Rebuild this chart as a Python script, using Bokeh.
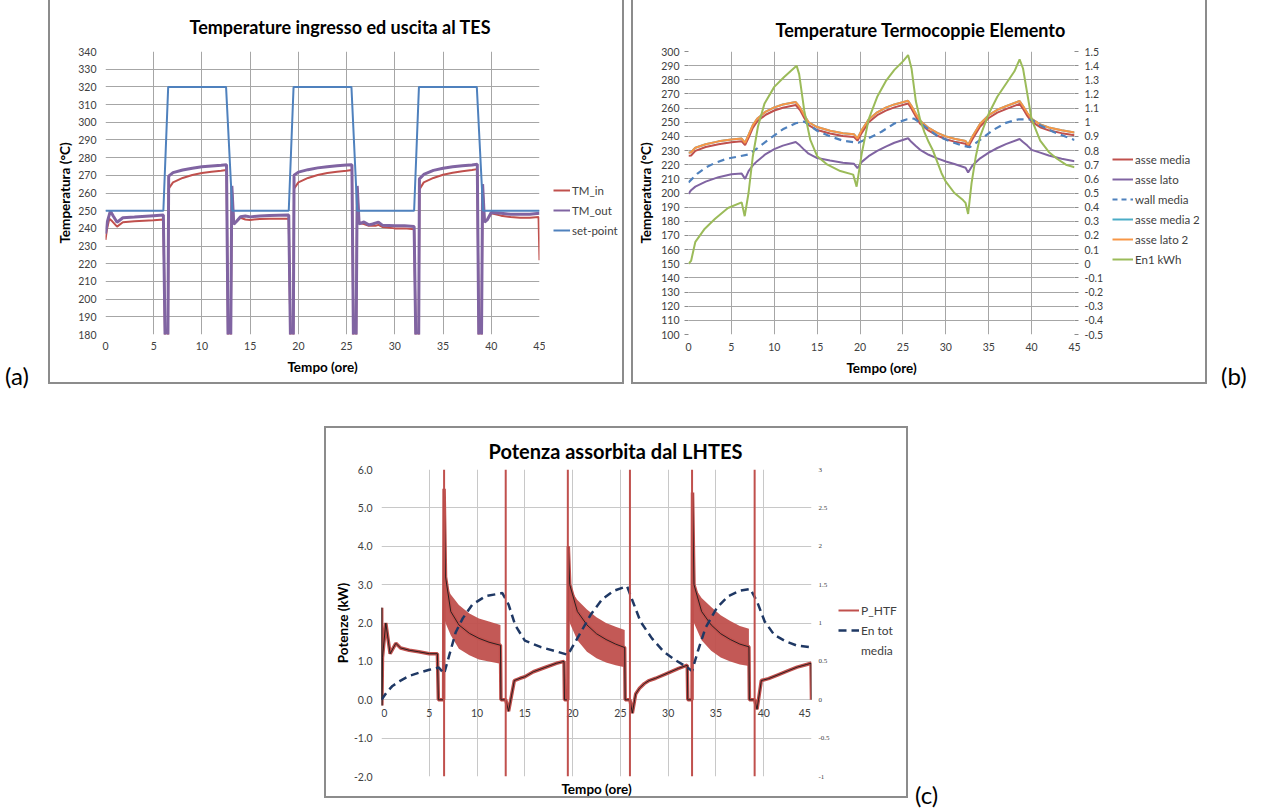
from bokeh.plotting import figure
from bokeh.models import (Range1d, LinearAxis, Legend, LegendItem, FixedTicker, Span, Div, Spacer,
                          NumeralTickFormatter, CustomJSTickFormatter)
from bokeh.layouts import row, column
from bokeh.embed import file_html
from bokeh.resources import INLINE

FONT = "Lato"
GRID = "#a6a6a6"
RED = "#c0504d"
PURPLE = "#8064a2"
BLUE = "#4f81bd"
CYAN = "#4bacc6"
ORANGE = "#f79646"
GREEN = "#9bbb59"
NAVY = "#1f3864"
BORDER = "2px solid #8c8c8c"

x_ticks = [0, 5, 10, 15, 20, 25, 30, 35, 40, 45]

# ---------------- panel (a) data ----------------
a_t_in = [0, 0.15, 0.4, 0.7, 1.2, 1.8, 3, 5, 6.0, 6.25,
          6.45, 6.55, 7, 8, 9, 10, 11, 12, 12.55, 12.75,
          12.95, 13.1, 13.3, 13.6, 14, 14.5, 15, 16, 17, 19.0,
          19.25, 19.45, 19.55, 20, 21, 22, 23, 24, 25, 25.55,
          25.75, 25.95, 26.1, 26.3, 26.8, 27.3, 28, 28.3, 28.7, 30,
          31, 32, 32.25, 32.45, 32.55, 33, 34, 35, 36, 37,
          38, 38.55, 38.75, 38.95, 39.1, 39.3, 39.6, 40, 41, 42,
          43, 44, 44.9, 45]
a_tm_in = [233.5, 239.5, 245.5, 244, 241, 243.5, 244, 244.6, 245, 150,
           150, 262.5, 266, 268.5, 270.2, 271.3, 272, 272.6, 273, 150,
           150, 263, 243, 244, 246, 245, 244.8, 245.3, 245.5, 245.5,
           150, 150, 262.5, 266, 268.5, 270.2, 271.3, 272, 272.6, 273,
           150, 150, 263, 243, 242.5, 241.5, 241.5, 242, 240.8, 240,
           240, 239.5, 150, 150, 262, 266, 268.5, 270.3, 271.5, 272.3,
           273, 273.5, 150, 150, 264, 244, 245, 248.5, 247.2, 246.4,
           246, 246, 246.4, 222]
a_t_out = [0, 0.2, 0.5, 0.8, 1.2, 1.8, 3, 5, 6.0, 6.25,
           6.45, 6.55, 7, 8, 9, 10, 11, 12, 12.55, 12.75,
           12.95, 13.1, 13.3, 13.6, 14, 14.5, 15, 16, 17, 19.0,
           19.25, 19.45, 19.55, 20, 21, 22, 23, 24, 25, 25.55,
           25.75, 25.95, 26.1, 26.3, 26.8, 27.3, 27.7, 28.3, 28.7, 30,
           31, 32, 32.25, 32.45, 32.55, 33, 34, 35, 36, 37,
           38, 38.55, 38.75, 38.95, 39.1, 39.3, 39.6, 40, 41, 42,
           43, 44, 45]
a_tm_out = [237, 244, 249.8, 247, 243.5, 246, 246.4, 247.2, 247.5, 150,
            150, 269.5, 271.5, 273, 274, 274.8, 275.3, 275.7, 276, 150,
            150, 264, 242.3, 244, 246.6, 247, 246.5, 247, 247.3, 247.5,
            150, 150, 270, 271.8, 273.2, 274.2, 274.9, 275.4, 275.8, 276,
            150, 150, 264, 242.5, 243.6, 242, 242.5, 243.5, 241.8, 241.5,
            241.5, 241, 150, 150, 268, 270.5, 272.8, 274, 274.8, 275.4,
            275.8, 276.2, 150, 150, 265, 243.5, 245, 249, 248.5, 248,
            248, 248, 248.5]
a_t_sp = [0, 6.0, 6.5, 12.5, 13.15, 19.0, 19.5, 25.5, 26.1, 32.0, 32.5, 38.5, 39.15, 45]
a_setpoint = [250, 250, 320, 320, 250, 250, 320, 320, 250, 250, 320, 320, 250, 250]
a_y_ticks = list(range(180, 341, 10))

# ---------------- panel (b) data ----------------
b_t = [0, 0.3, 0.8, 2, 3.5, 5, 6.2, 6.6, 7, 7.5,
       8, 9, 10, 11, 12.5, 13, 13.5, 14, 15, 16.5,
       18, 19.3, 19.7, 20.2, 21, 22, 23, 24, 25.6, 26,
       26.5, 27, 28, 29, 30, 31, 32.3, 32.6, 33.1, 34,
       35, 36, 37, 38.6, 39, 39.5, 40, 41, 42, 43.5,
       45]
b_asse_lato2 = [228.5, 228.8, 232, 234.5, 236.5, 237.8, 238.5, 235.5, 241, 248,
                252.5, 257.5, 260.5, 262.5, 264.3, 260.5, 255, 250, 246.6, 244,
                242.3, 241.5, 238.5, 244.5, 252, 257, 260.3, 262.6, 265.2, 261.5,
                256, 251, 246, 242.5, 240, 238.3, 236.8, 234, 240, 249,
                255, 258.8, 261.3, 265, 261.5, 256.5, 252.5, 248.5, 246.3, 244.3,
                242.8]
b_asse_media = [226.3, 226.5, 229.8, 232.5, 234.5, 235.8, 236.5, 233.8, 239, 246,
                250.5, 255.3, 258.3, 260.3, 262.2, 258.6, 253, 248, 244.5, 242,
                240.3, 239.5, 237, 242.5, 250, 255, 258.2, 260.5, 263.2, 259.5,
                254, 249, 244, 240.5, 238, 236.3, 234.8, 232.5, 238, 247,
                253, 256.8, 259.3, 263, 259.5, 254.5, 250.5, 246.5, 244.3, 242.3,
                240.8]
b_asse_media2 = [228.5, 228.8, 232, 234.5, 236.5, 237.8, 238.5, 235.5, 241, 248,
                 252.5, 257.5, 260.5, 262.5, 264.3, 260.5, 255, 250, 246.6, 244,
                 242.3, 241.5, 238.5, 244.5, 252, 257, 260.3, 262.6, 265.2, 261.5,
                 256, 251, 246, 242.5, 240, 238.3, 236.8, 234, 240, 249,
                 255, 258.8, 261.3, 265, 261.5, 256.5, 252.5, 248.5, 246.3, 244.3,
                 242.8]
b_asse_lato = [199.4, 202, 204.5, 208, 211.2, 213.2, 213.7, 210, 215.5, 219.5,
               222.5, 227.5, 231, 233.5, 236, 233.5, 230.5, 227.8, 224.7, 222.9,
               221.4, 220.6, 217.5, 222, 226, 229.8, 232.8, 235.5, 238.7, 236,
               233.2, 230.5, 227, 224.5, 222.3, 220.5, 217.8, 214.5, 219.5, 224.5,
               228.5, 231.8, 234.5, 238.2, 236, 233.5, 230.5, 228.5, 226.5, 224.2,
               222.4]
b_t_wall = [0, 1, 2, 3, 4.5, 6, 7, 8, 9.5, 11,
            12.5, 13.5, 15, 16.5, 18, 19.8, 21, 22.5, 24, 25.5,
            26.3, 27.5, 29, 30.5, 32, 32.8, 34, 35.5, 37, 38.5,
            40, 41, 42.5, 44, 45]
b_wall_media = [207.5, 213.5, 218, 221, 224.3, 226, 227.3, 231.5, 238.5, 245,
                249.3, 250.5, 244, 240, 237, 235.5, 238.7, 243.3, 249.1, 252.1,
                252.6, 247.3, 240.3, 236.4, 233.3, 232.4, 237.5, 244.5, 249.6, 252.1,
                251.9, 247.9, 243.3, 239.8, 237.5]
b_t_en = [0, 0.3, 0.8, 1.9, 3.1, 4.6, 6.2, 6.55, 7, 7.5,
          8.1, 8.85, 10, 11.15, 12.6, 12.9, 13.5, 14.2, 15, 16.2,
          17.7, 19.2, 19.6, 20.2, 21, 22, 23, 24, 25, 25.6,
          26, 26.5, 27, 27.5, 28, 28.5, 29, 29.5, 30, 31,
          32, 32.3, 32.6, 33, 33.5, 34, 35, 36, 37, 38,
          38.6, 39, 39.5, 40, 41, 42, 43, 44, 45]
b_en1 = [0.0, 0.02, 0.155, 0.248, 0.318, 0.394, 0.434, 0.336, 0.5, 0.76,
         0.97, 1.13, 1.25, 1.32, 1.40, 1.34, 1.08, 0.875, 0.76, 0.70,
         0.655, 0.63, 0.545, 0.78, 1.02, 1.18, 1.29, 1.37, 1.43, 1.475,
         1.38, 1.15, 1.02, 0.93, 0.86, 0.8, 0.72, 0.64, 0.58, 0.5,
         0.45, 0.43, 0.352, 0.57, 0.76, 0.9, 1.06, 1.18, 1.27, 1.36,
         1.444, 1.38, 1.2, 1.02, 0.87, 0.79, 0.74, 0.70, 0.682]
b_y_ticks = list(range(100, 301, 10))
b_r_ticks = [-0.5, -0.4, -0.3, -0.2, -0.1, 0, 0.1, 0.2, 0.3, 0.4, 0.5,
             0.6, 0.7, 0.8, 0.9, 1, 1.1, 1.2, 1.3, 1.4, 1.5]

# ---------------- panel (c) data ----------------
c_t = [0, 0.02, 0.04, 0.1, 0.45, 0.9, 1.5, 2.0, 2.9, 3.9,
       5.0, 5.85, 5.95, 6.5, 6.55, 6.7, 7.25, 8.1, 9.2, 10.2,
       11.25, 12.45, 12.5, 13.0, 13.3, 13.6, 13.9, 14.5, 15.0, 15.9,
       17.1, 18.3, 19.1, 19.15, 19.5, 19.55, 19.7, 20.5, 21.5, 22.5,
       23.5, 24.5, 25.45, 25.5, 26.0, 26.25, 26.6, 27.0, 27.5, 28.0,
       28.7, 29.9, 31.1, 32.0, 32.05, 32.5, 32.55, 32.7, 33.5, 34.5,
       35.5, 36.5, 37.5, 38.45, 38.5, 39.05, 39.3, 39.75, 40.5, 41.5,
       42.5, 43.5, 44.5, 44.95, 45]
c_p_htf = [0, 2.4, -0.15, 1.1, 2.0, 1.2, 1.47, 1.35, 1.29, 1.25,
           1.2, 1.2, 0, 0, 5.5, 3.2, 2.3, 1.95, 1.73, 1.6,
           1.5, 1.42, 0, 0, -0.3, 0.1, 0.5, 0.56, 0.6, 0.73,
           0.84, 0.95, 1.0, 0, 0, 4.0, 3.0, 2.3, 1.95, 1.72,
           1.57, 1.45, 1.36, 0, 0, -0.35, 0.15, 0.3, 0.42, 0.5,
           0.56, 0.69, 0.82, 0.9, 0, 0, 5.4, 3.0, 2.3, 1.95,
           1.72, 1.57, 1.45, 1.38, 0, 0, -0.25, 0.5, 0.55, 0.65,
           0.75, 0.85, 0.92, 0.95, 0]
c_band_t = [[6.6, 6.7, 7.25, 8.1, 9.2, 10.2, 11.25, 12.45],
            [19.6, 19.7, 20.5, 21.5, 22.5, 23.5, 24.5, 25.45],
            [32.6, 32.7, 33.5, 34.5, 35.5, 36.5, 37.5, 38.45]]
c_band_hi = [[3.7, 3.0, 2.74, 2.47, 2.25, 2.12, 2.04, 1.95],
             [3.5, 2.9, 2.6, 2.35, 2.15, 2.0, 1.9, 1.82],
             [3.6, 2.95, 2.65, 2.42, 2.2, 2.05, 1.92, 1.85]]
c_band_lo = [[2.1, 2.0, 1.68, 1.33, 1.16, 1.05, 1.0, 0.94],
             [2.1, 2.0, 1.55, 1.25, 1.08, 0.97, 0.9, 0.85],
             [2.1, 2.0, 1.55, 1.28, 1.1, 1.0, 0.92, 0.88]]
c_switch_t = [6.55, 13.0, 19.5, 26.0, 32.5, 39.05]
c_t_en = [0, 0.5, 1.15, 2, 2.9, 4, 5, 6, 6.55, 7.07,
          7.77, 8.5, 9.5, 10.9, 12.65, 13.3, 14, 15, 16.7, 18.3,
          19.5, 20.7, 21.9, 23.1, 24.3, 25.7, 26.3, 27.1, 28.3, 29.5,
          30.7, 31.9, 32.5, 33.1, 33.9, 35.1, 36.3, 37.5, 38.6, 39.3,
          40.1, 41.1, 42.3, 43.5, 45]
c_en_tot = [0, 0.09, 0.18, 0.25, 0.31, 0.355, 0.39, 0.42, 0.34, 0.57,
            0.88, 1.06, 1.24, 1.35, 1.39, 1.24, 0.97, 0.77, 0.685, 0.63,
            0.585, 0.845, 1.11, 1.31, 1.42, 1.48, 1.28, 1.02, 0.8, 0.63,
            0.52, 0.43, 0.375, 0.63, 0.935, 1.2, 1.35, 1.42, 1.445, 1.28,
            1.02, 0.845, 0.76, 0.705, 0.685]
c_y_ticks = [-2, -1, 0, 1, 2, 3, 4, 5, 6]
c_r_ticks = [-1, -0.5, 0, 0.5, 1, 1.5, 2, 2.5, 3]

SHORT_FMT = CustomJSTickFormatter(code="return (Math.round(tick*10)/10).toString();")
NB = "\u00a0"


def style_axis(ax, size="10.5px"):
    ax.major_label_text_font = FONT
    ax.major_label_text_font_size = size
    ax.major_label_text_color = "#404040"
    ax.axis_label_text_font = FONT
    ax.axis_label_text_font_style = "bold"
    ax.axis_label_text_font_size = "13.5px"
    ax.axis_label_text_color = "#000000"
    ax.minor_tick_line_color = None
    ax.major_tick_line_color = None
    ax.major_tick_out = 0
    ax.major_tick_in = 0
    ax.minor_tick_out = 0
    ax.minor_tick_in = 0
    ax.axis_line_color = None


def make_panel(title, tsize, offset, standoff, yr, w, h, mb, styles, grid=GRID):
    p = figure(width=w, height=h, x_range=Range1d(0, 45), y_range=Range1d(*yr),
               min_border_left=mb[0], min_border_right=mb[1], min_border_top=mb[2], min_border_bottom=mb[3],
               output_backend="svg", toolbar_location=None, outline_line_color=None,
               background_fill_color="white", border_fill_color="white", styles=styles,
               title=title)
    p.title.align = "left"
    p.title.offset = offset
    p.title.standoff = standoff
    p.title.text_font = FONT
    p.title.text_font_size = tsize
    p.title.text_font_style = "bold"
    p.title.text_color = "#000000"
    p.xgrid.ticker = FixedTicker(ticks=x_ticks)
    p.xgrid.grid_line_color = grid
    p.ygrid.grid_line_color = grid
    for ax in p.xaxis + p.yaxis:
        style_axis(ax)
    p.xaxis.ticker = FixedTicker(ticks=x_ticks)
    return p


def legend_fig(w, h, styles, entries, loc, glyph_w, fs="11.5px", lh=20):
    """Side figure carrying the legend; the series are drawn outside its visible range,
    so only their legend keys show."""
    lf = figure(width=w, height=h, x_range=Range1d(0, 1), y_range=Range1d(-10, -9),
                x_axis_type=None, y_axis_type=None, min_border=0,
                output_backend="svg", toolbar_location=None, outline_line_color=None,
                background_fill_color="white", border_fill_color="white", styles=styles)
    items = []
    for label, xs, ys, kw in entries:
        r = lf.line(x=xs, y=ys, **kw)
        items.append(LegendItem(label=label, renderers=[r]))
    lf.add_layout(Legend(items=items, location=loc, border_line_color=None,
                         background_fill_alpha=0, padding=0, margin=0, spacing=0,
                         label_height=lh, glyph_height=lh, glyph_width=glyph_w, label_standoff=2,
                         label_text_font=FONT, label_text_font_size=fs, label_text_color="#404040"))
    return lf


# ---------------- panel (a) ----------------
pa = make_panel("Temperature ingresso ed uscita al TES", "18px", 84, 27, (180, 340), 497, 384,
                (55, 8, 51, 50), {"border-left": BORDER, "border-bottom": BORDER})
pa.yaxis.ticker = FixedTicker(ticks=a_y_ticks)
pa.ygrid.ticker = FixedTicker(ticks=a_y_ticks)
pa.yaxis.axis_label = "Temperatura (°C)"
pa.xaxis.axis_label = "Tempo (ore)"
pa.yaxis.major_label_standoff = 9
pa.yaxis.axis_label_standoff = 2
pa.xaxis.major_label_standoff = 7
pa.xaxis.axis_label_standoff = 6
pa.line(a_t_in, a_tm_in, line_color=RED, line_width=2)
pa.line(a_t_out, a_tm_out, line_color=PURPLE, line_width=3)
pa.line(a_t_sp, a_setpoint, line_color=BLUE, line_width=2)
la = legend_fig(79, 384, {"border-right": BORDER, "border-bottom": BORDER},
                [("TM_in", a_t_in, a_tm_in, dict(line_color=RED, line_width=2)),
                 ("TM_out", a_t_out, a_tm_out, dict(line_color=PURPLE, line_width=2)),
                 ("set-point", a_t_sp, a_setpoint, dict(line_color=BLUE, line_width=2))],
                (8, 94), 17)

# ---------------- panel (b) ----------------
pb = make_panel("Temperature Termocoppie Elemento", "18px", 87, 21, (100, 300), 473, 384,
                (55, 29, 37, 50), {"border-left": BORDER, "border-bottom": BORDER})
pb.yaxis.ticker = FixedTicker(ticks=b_y_ticks)
pb.ygrid.ticker = FixedTicker(ticks=b_y_ticks)
pb.yaxis.axis_label = "Temperatura (°C)"
pb.xaxis.axis_label = "Tempo (ore)"
pb.yaxis.major_tick_line_color = "#8c8c8c"
pb.yaxis.major_tick_out = 4
pb.yaxis.major_label_standoff = 5
pb.yaxis.axis_label_standoff = 4
pb.xaxis.major_label_standoff = 8
pb.xaxis.axis_label_standoff = 6
pb.extra_y_ranges = {"en": Range1d(-0.5, 1.5)}
rax = LinearAxis(y_range_name="en", ticker=FixedTicker(ticks=b_r_ticks), formatter=SHORT_FMT)
style_axis(rax)
rax.major_tick_line_color = "#8c8c8c"
rax.major_tick_out = 4
rax.major_label_standoff = 6
pb.add_layout(rax, "right")
pb.line(b_t, b_asse_media2, line_color=CYAN, line_width=2)
pb.line(b_t, b_asse_media, line_color=RED, line_width=2)
pb.line(b_t, b_asse_lato2, line_color=ORANGE, line_width=2)
pb.line(b_t, b_asse_lato, line_color=PURPLE, line_width=2)
pb.line(b_t_wall, b_wall_media, line_color=BLUE, line_width=2.2, line_dash="7 5")
pb.line(b_t_en, b_en1, line_color=GREEN, line_width=2, y_range_name="en")
lb = legend_fig(103, 384, {"border-right": BORDER, "border-bottom": BORDER},
                [("asse media", b_t, b_asse_media, dict(line_color=RED, line_width=2)),
                 ("asse lato", b_t, b_asse_lato, dict(line_color=PURPLE, line_width=2)),
                 ("wall media", b_t_wall, b_wall_media, dict(line_color=BLUE, line_width=2.2, line_dash="5 4")),
                 ("asse media 2", b_t, b_asse_media2, dict(line_color=CYAN, line_width=2)),
                 ("asse lato 2", b_t, b_asse_lato2, dict(line_color=ORANGE, line_width=2)),
                 ("En1 kWh", b_t_en, b_en1, dict(line_color=GREEN, line_width=2))],
                (8, 65), 21)

# ---------------- panel (c) ----------------
pc = make_panel("Potenza assorbita dal LHTES", "20px", 107, 14, (-2, 6), 507, 372,
                (55, 22, 41, 24), {"border-left": BORDER, "border-top": BORDER, "border-bottom": BORDER},
                grid="#c8c8c8")
pc.yaxis.ticker = FixedTicker(ticks=c_y_ticks)
pc.ygrid.ticker = FixedTicker(ticks=c_y_ticks)
pc.yaxis.formatter = NumeralTickFormatter(format="0.0")
pc.yaxis.axis_label = "Potenze (kW)"
pc.yaxis.major_label_standoff = 9
pc.yaxis.axis_label_standoff = 0
pc.xaxis.ticker = FixedTicker(ticks=[])
pc.xaxis.axis_label = "Tempo (ore)"
pc.xaxis.axis_label_standoff = 4
x0 = LinearAxis(fixed_location=0, ticker=FixedTicker(ticks=x_ticks))
style_axis(x0)
x0.major_label_standoff = 7
x0.major_label_overrides = {x_ticks[0]: NB * 2 + "0", x_ticks[-1]: "45" + NB * 5}
pc.add_layout(x0, "below")
pc.extra_y_ranges = {"en": Range1d(-1, 3)}
rcx = LinearAxis(y_range_name="en", ticker=FixedTicker(ticks=c_r_ticks), formatter=SHORT_FMT)
style_axis(rcx, size="7px")
rcx.major_label_text_font = "Liberation Serif"
rcx.major_label_standoff = 7
pc.add_layout(rcx, "right")
for bt, bh, bl in zip(c_band_t, c_band_hi, c_band_lo):
    pc.varea(x=bt, y1=bl, y2=bh, fill_color=RED, fill_alpha=0.95)
pc.line(c_t, c_p_htf, line_color=RED, line_width=3.5)
pc.line(c_t, c_p_htf, line_color="#1a1a1a", line_width=0.9)
pc.line(c_t_en, c_en_tot, line_color=NAVY, line_width=2.5, line_dash="8 5", y_range_name="en")
for ts in c_switch_t:
    pc.add_layout(Span(location=ts, dimension="height", line_color=RED, line_width=2))
lc = legend_fig(77, 372, {"border-right": BORDER, "border-top": BORDER, "border-bottom": BORDER},
                [("P_HTF", c_t, c_p_htf, dict(line_color=RED, line_width=2)),
                 ("En tot", c_t_en, c_en_tot, dict(line_color=NAVY, line_width=2.5, line_dash="8 5")),
                 ("media", c_t_en, c_en_tot, dict(line_alpha=0))],
                (7, 116), 21, fs="12px")


def label_div(txt, w, h, pad, left):
    return Div(text=(f'<div style="padding-top:{pad}px;padding-left:{left}px;font-family:Lato;'
                     f'font-size:24px;line-height:16px;color:#000;">{txt}</div>'),
               width=w, height=h)


div_a = label_div("(a)", 38, 384, 363, 0)
div_b = label_div("(b)", 40, 384, 363, 9)
div_c = label_div("(c)", 40, 376, 356, 2)

layout = column(
    row(div_a, pa, la, Spacer(width=7, height=384), pb, lb, div_b),
    Spacer(width=10, height=32),
    row(Spacer(width=324, height=376), pc, lc, div_c),
)

open("out.html", "w").write(file_html(layout, INLINE))
